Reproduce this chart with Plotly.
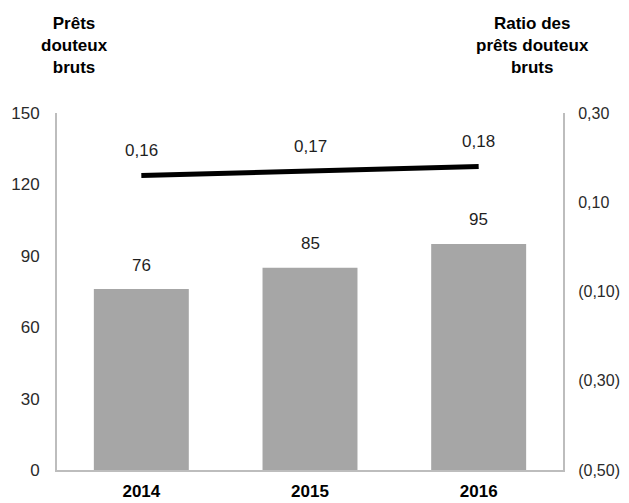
import plotly.graph_objects as go

# Data
years = ["2014", "2015", "2016"]
gross_npl = [76, 85, 95]                 # left axis: Prêts douteux bruts
npl_ratio = [0.16, 0.17, 0.18]           # right axis: Ratio des prêts douteux bruts
npl_ratio_labels = ["0,16", "0,17", "0,18"]

left_ticks = [0, 30, 60, 90, 120, 150]
right_ticks = [-0.5, -0.3, -0.1, 0.1, 0.3]
right_tick_text = ["(0,50)", "(0,30)", "(0,10)", "0,10", "0,30"]

FONT = "Liberation Sans, Arial, sans-serif"
TXT = "#1f1f1f"
AXIS = "#bdbdbd"

fig = go.Figure()

fig.add_trace(go.Bar(
    x=years, y=gross_npl,
    marker=dict(color="#a6a6a6", line=dict(width=0)),
    yaxis="y", hoverinfo="skip",
))

fig.add_trace(go.Scatter(
    x=years, y=npl_ratio,
    mode="lines",
    line=dict(color="black", width=5),
    yaxis="y2", hoverinfo="skip",
))

# Value labels above bars (category axis: annotations addressed by category index,
# since numeric-looking strings would be read as positions)
for i, v in enumerate(gross_npl):
    fig.add_annotation(x=i, y=v, xref="x", yref="y", text=str(v),
                       showarrow=False, yanchor="middle", yshift=24,
                       font=dict(family=FONT, size=17, color=TXT))

# Value labels above the ratio line
for i, (v, lbl) in enumerate(zip(npl_ratio, npl_ratio_labels)):
    fig.add_annotation(x=i, y=v, xref="x", yref="y2", text=lbl,
                       showarrow=False, yanchor="middle", yshift=25,
                       font=dict(family=FONT, size=17, color=TXT))

# Axis titles
fig.add_annotation(x=(74 - 57) / 506, y=1.19, xref="paper", yref="paper",
                   text="<b>Prêts<br>douteux<br>bruts</b>", showarrow=False,
                   xanchor="center", yanchor="middle", align="center",
                   font=dict(family=FONT, size=17, color="black"))
fig.add_annotation(x=(532 - 57) / 506, y=1.19, xref="paper", yref="paper",
                   text="<b>Ratio des<br>prêts douteux<br>bruts</b>", showarrow=False,
                   xanchor="center", yanchor="middle", align="center",
                   font=dict(family=FONT, size=17, color="black"))

fig.update_layout(
    width=629, height=503,
    margin=dict(l=57, r=66, t=113, b=33),
    paper_bgcolor="white", plot_bgcolor="white",
    showlegend=False,
    bargap=0.437,
    font=dict(family=FONT, size=17, color=TXT),
)
fig.update_xaxes(
    type="category", automargin=False,
    range=[-0.5, len(years) - 0.5],
    showgrid=False, zeroline=False,
    showline=True, linecolor=AXIS, linewidth=2,
    ticks="outside", ticklen=5, tickcolor="rgba(0,0,0,0)",
    tickfont=dict(family=FONT, size=17, color="black"),
    tickprefix="<b>", ticksuffix="</b>",
)
fig.update_layout(
    yaxis=dict(
        range=[0, 150], tickvals=left_ticks, automargin=False,
        showgrid=False, zeroline=False,
        showline=True, linecolor=AXIS, linewidth=2,
        ticks="outside", ticklen=12, tickcolor="rgba(0,0,0,0)",
        tickfont=dict(family=FONT, size=17, color="#2a2a2a"),
    ),
    yaxis2=dict(
        range=[-0.5, 0.3], tickvals=right_ticks, ticktext=right_tick_text,
        overlaying="y", side="right", automargin=False,
        showgrid=False, zeroline=False,
        showline=True, linecolor=AXIS, linewidth=2,
        ticks="outside", ticklen=10, tickcolor="rgba(0,0,0,0)",
        tickfont=dict(family=FONT, size=16, color="#2a2a2a"),
    ),
)

fig.write_html("out.html")
